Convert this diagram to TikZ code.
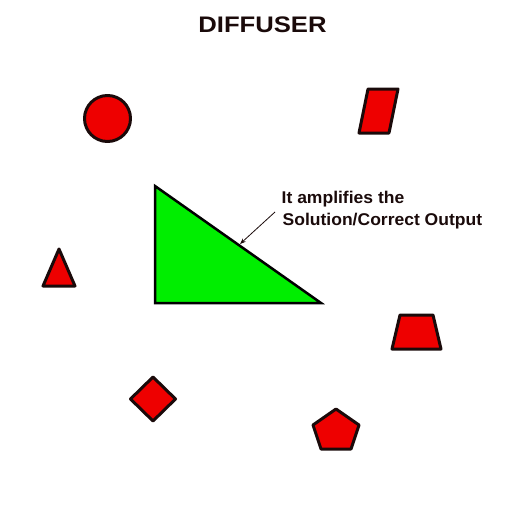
\documentclass[tikz,border=0pt]{standalone}
\usepackage{fontspec}
\setmainfont{Liberation Sans}
\usetikzlibrary{arrows.meta}
\definecolor{shapered}{RGB}{238,0,0}
\definecolor{outline}{RGB}{26,10,10}
\definecolor{brightgreen}{RGB}{0,238,0}
\tikzset{
  redshape/.style={fill=shapered,draw=outline,line width=3pt,line join=round},
  label/.style={inner sep=0pt,font=\bfseries\fontsize{17}{17}\selectfont,text=outline}
}
\begin{document}
\begin{tikzpicture}[x=1pt,y=-1pt]
\useasboundingbox (0,0) rectangle (505,522);
% title
\node[inner sep=0pt,anchor=base,text=outline,font=\bfseries\fontsize{22.5}{22.5}\selectfont] (title) at (262.5,32.5) {\scalebox{1.14}[1]{DIFFUSER}};
% red shapes
\draw[redshape] (107.5,118.5) circle (23);
\draw[redshape] (368,89) -- (398,89) -- (389,133) -- (359,133) -- cycle;
\draw[redshape] (59,249) -- (75,286) -- (43,286) -- cycle;
\draw[redshape] (400,315) -- (433,315) -- (441,349) -- (392,349) -- cycle;
\draw[redshape] (153,377) -- (175.5,399) -- (153,421) -- (130.5,399) -- cycle;
\draw[redshape] (336,409) -- (359,425) -- (351,449) -- (321,449) -- (313,425) -- cycle;
% green triangle
\draw[fill=brightgreen,draw=black,line width=2.5pt,line join=miter] (155,186) -- (155,303) -- (321,303) -- cycle;
% label
\node[label,anchor=base west] (l1) at (281.5,203) {\scalebox{1.03}[1]{It amplifies the}};
\node[label,anchor=base west] (l2) at (282.5,225) {\scalebox{1.03}[1]{Solution/Correct Output}};
\coordinate (astart) at (275,212);
\coordinate (aend) at (240,244);
\draw[-{Stealth[length=6pt,width=4.5pt]},line width=0.8pt,draw=outline] (astart) -- (aend);
\end{tikzpicture}
\end{document}
